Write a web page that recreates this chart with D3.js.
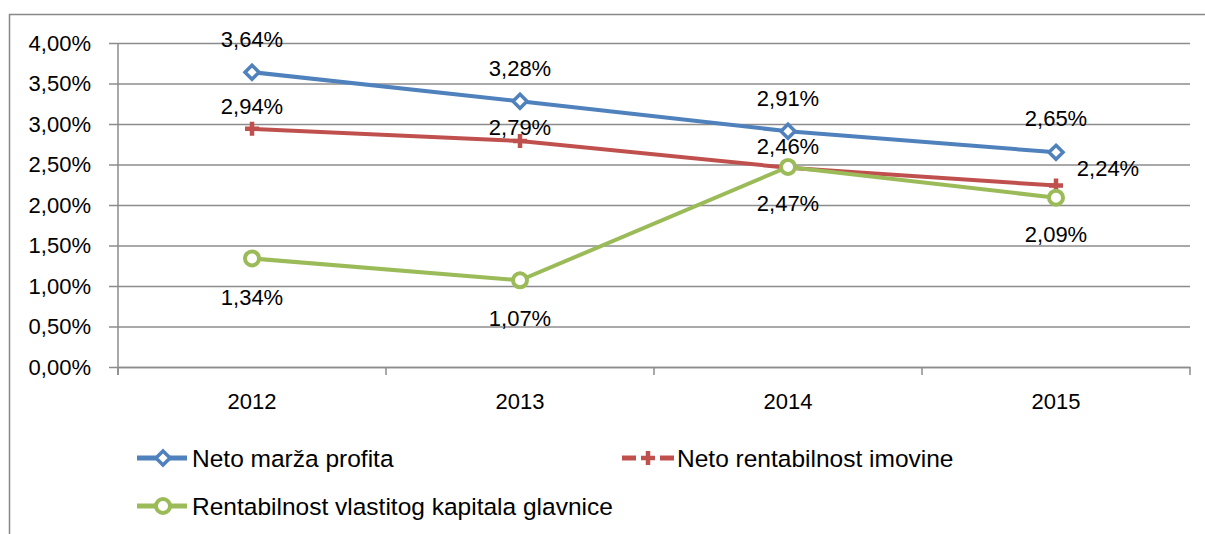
<!DOCTYPE html>
<html>
<head>
<meta charset="utf-8">
<script src="https://cdn.jsdelivr.net/npm/d3@7"></script>
<style>
  body { margin: 0; background: #fff; }
  text { font-family: "Liberation Sans", Arial, sans-serif; fill: #000; }
</style>
</head>
<body>
<div id="chart"></div>
<script>
// data
const years = ["2012", "2013", "2014", "2015"];
const netoMarza = [3.64, 3.28, 2.91, 2.65];
const netoRentImovine = [2.94, 2.79, 2.46, 2.24];
const rentKapitala = [1.34, 1.07, 2.47, 2.09];
const seriesNames = ["Neto marža profita", "Neto rentabilnost imovine", "Rentabilnost vlastitog kapitala glavnice"];
const yTicks = [0, 0.5, 1, 1.5, 2, 2.5, 3, 3.5, 4];

// --------------------------------------
//  canvas
// --------------------------------------
const width = 1205, height = 534;
const margin = {top: 43, right: 15, bottom: 167, left: 118};
const innerwidth = 1190 - margin.left;
const innerheight = 367 - margin.top;

const svg = d3.select("#chart").append("svg")
  .attr("width", width).attr("height", height);

// outer frame
svg.append("rect")
  .attr("x", 9.5).attr("y", 14.5)
  .attr("width", 1300).attr("height", 600)
  .attr("fill", "none").attr("stroke", "#888").attr("stroke-width", 1.5);

const g = svg.append("g").attr("transform", `translate(${margin.left},${margin.top})`);

// --------------------------------------
//  scales
// --------------------------------------
const x = d3.scaleBand().domain(years).range([0, innerwidth]);
const y = d3.scaleLinear().domain([0, 4]).range([innerheight, 0]);
const fmt = v => d3.format(".2f")(v).replace(".", ",") + "%";

// gridlines + y axis
const yAxis = g.append("g")
  .call(d3.axisLeft(y).tickValues(yTicks).tickSize(-innerwidth).tickPadding(27).tickFormat(fmt));
yAxis.select(".domain").remove();
yAxis.selectAll(".tick line").attr("stroke", "#8c8c8c").attr("stroke-width", 1.5).attr("x1", -9);
yAxis.selectAll(".tick text").style("font-size", "22px").attr("fill", "#000");

g.append("line")
  .attr("x1", 0).attr("x2", 0).attr("y1", 0).attr("y2", innerheight + 8)
  .attr("stroke", "#8c8c8c").attr("stroke-width", 1.5);

// x axis
const xAxis = g.append("g").attr("transform", `translate(0,${innerheight})`)
  .call(d3.axisBottom(x).tickSize(0).tickPadding(26));
xAxis.select(".domain").attr("stroke", "#8c8c8c").attr("stroke-width", 1.5);
xAxis.selectAll(".tick text").style("font-size", "22px").attr("fill", "#000");
const bounds = years.map(d => x(d)).concat([innerwidth]);
g.selectAll(".xtick").data(bounds).join("line")
  .attr("class", "xtick")
  .attr("x1", d => d).attr("x2", d => d)
  .attr("y1", innerheight).attr("y2", innerheight + 8)
  .attr("stroke", "#8c8c8c").attr("stroke-width", 1.5);

// --------------------------------------
//  series
// --------------------------------------
const cx = d => x(d) + x.bandwidth() / 2;
const series = [
  {name: seriesNames[0], values: netoMarza, color: "#4F81BD", marker: "diamond",
   lab: [[0, -33], [0, -33], [0, -33], [0, -34]]},
  {name: seriesNames[1], values: netoRentImovine, color: "#C0504D", marker: "plus",
   lab: [[0, -22], [0, -14], [0, -21], [52, -17]]},
  {name: seriesNames[2], values: rentKapitala, color: "#9BBB59", marker: "circle",
   lab: [[0, 39], [0, 38], [0, 37], [0, 37]]}
];

const line = d3.line().x(d => cx(d.year)).y(d => y(d.value));

function drawMarker(sel, type, color) {
  if (type === "diamond") {
    sel.append("path")
      .attr("d", "M0,-7L7,0L0,7L-7,0Z")
      .attr("fill", "#fff").attr("stroke", color).attr("stroke-width", 3.5);
  } else if (type === "plus") {
    sel.append("path")
      .attr("d", "M-7,0H7M0,-7V7")
      .attr("stroke", color).attr("stroke-width", 4.5);
  } else {
    sel.append("circle").attr("r", 7)
      .attr("fill", "#fff").attr("stroke", color).attr("stroke-width", 4);
  }
}

series.forEach(s => {
  const pts = years.map((yr, i) => ({year: yr, value: s.values[i], off: s.lab[i]}));
  g.append("path").datum(pts)
    .attr("d", line).attr("fill", "none")
    .attr("stroke", s.color).attr("stroke-width", 4);
  g.selectAll(null).data(pts).join("g")
    .attr("transform", d => `translate(${cx(d.year)},${y(d.value)})`)
    .each(function() { drawMarker(d3.select(this), s.marker, s.color); });
});

series.forEach(s => {
  const pts = years.map((yr, i) => ({year: yr, value: s.values[i], off: s.lab[i]}));
  g.selectAll(null).data(pts).join("text")
    .attr("x", d => cx(d.year) + d.off[0])
    .attr("y", d => y(d.value) + d.off[1])
    .attr("text-anchor", "middle").attr("dominant-baseline", "central")
    .style("font-size", "22px")
    .text(d => fmt(d.value));
});

// --------------------------------------
//  legend
// --------------------------------------
const legendPos = [[137, 458], [622, 458], [137, 506]];
series.forEach((s, i) => {
  const lg = svg.append("g").attr("transform", `translate(${legendPos[i][0]},${legendPos[i][1]})`);
  if (s.marker === "plus") {
    lg.append("line").attr("x1", 0).attr("x2", 14).attr("stroke", s.color).attr("stroke-width", 5);
    lg.append("line").attr("x1", 38).attr("x2", 52).attr("stroke", s.color).attr("stroke-width", 5);
  } else {
    lg.append("line").attr("x1", 0).attr("x2", 50).attr("stroke", s.color).attr("stroke-width", 5);
  }
  drawMarker(lg.append("g").attr("transform", "translate(26,0)"), s.marker, s.color);
  lg.append("text").attr("x", 55).attr("y", 0).attr("dominant-baseline", "central")
    .style("font-size", "24.5px").text(s.name);
});
</script>
</body>
</html>
